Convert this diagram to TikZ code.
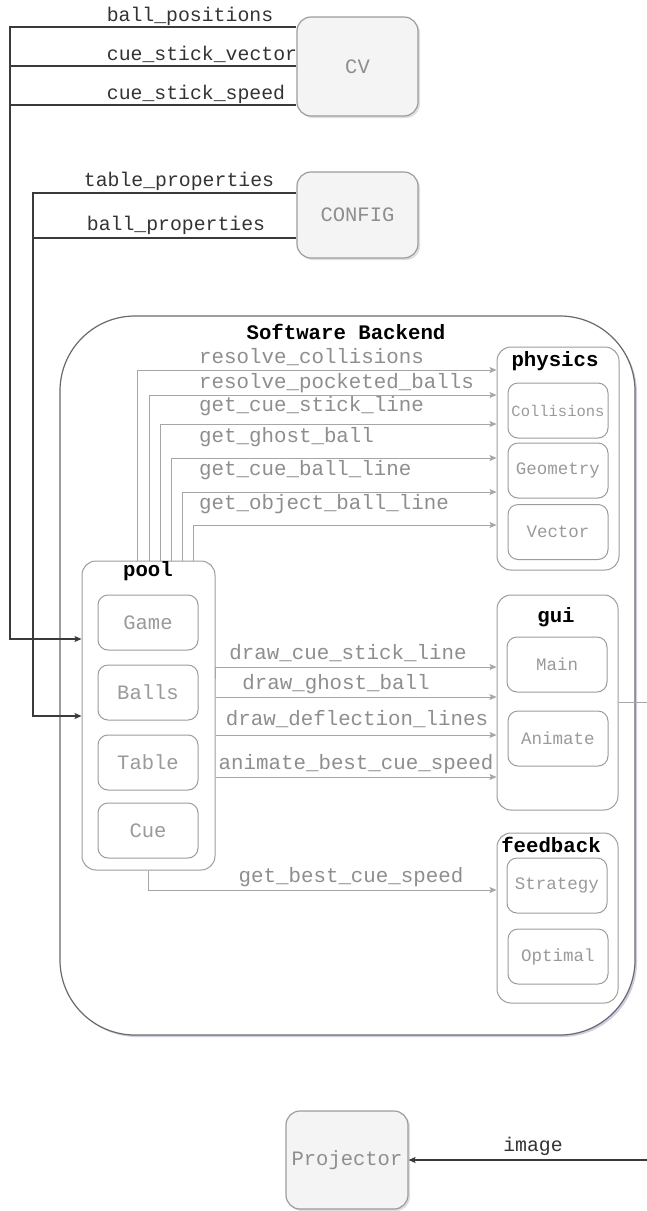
\documentclass[tikz,border=0pt]{standalone}
\usepackage{fontspec}
\setmainfont{Liberation Mono}
\usetikzlibrary{arrows.meta,shadows}

\definecolor{boxfill}{HTML}{F4F4F4}
\definecolor{boxline}{HTML}{9C9C9C}
\definecolor{wirecol}{HTML}{A6A6A6}
\definecolor{darkwire}{HTML}{3A3A3A}
\definecolor{dimtext}{HTML}{8E8E8E}
\definecolor{softtext}{HTML}{9A9A9A}
\definecolor{labeltext}{HTML}{333333}
\definecolor{frameline}{HTML}{6A6A6A}

\tikzset{
  fs/.style={font=\fontsize{#1}{#1}\selectfont},
  extbox/.style={draw=boxline, fill=boxfill, line width=1.2pt, rounded corners=14pt,
    drop shadow={opacity=0.25, shadow xshift=2pt, shadow yshift=-2pt},
    inner sep=0pt, text=dimtext, fs=20.5},
  backendbox/.style={draw=frameline, fill=white, line width=1.2pt, rounded corners=75pt,
    drop shadow={opacity=0.3, fill=blue!30!gray, shadow xshift=2pt, shadow yshift=-2pt},
    inner sep=0pt},
  modbox/.style={draw=boxline, fill=white, line width=1pt, rounded corners=14pt, inner sep=0pt},
  partbox/.style={draw=boxline, fill=white, line width=1pt, rounded corners=10pt, inner sep=0pt,
    text=softtext, minimum width=100pt, minimum height=55pt},
  title/.style={font=\fontsize{20.7}{20.7}\selectfont\bfseries, text=black, inner sep=0pt},
  toplabel/.style={fs=19.8, text=labeltext, inner sep=0pt, text height=14pt, text depth=4pt},
  calllabel/.style={fs=20.8, text=dimtext, inner sep=0pt, text height=14pt, text depth=4pt},
  dwire/.style={draw=darkwire, line width=1.2pt},
  wire/.style={draw=wirecol, line width=1pt},
  tip/.style={-{Stealth[length=7pt,width=6pt,inset=1.5pt]}}
}

\begin{document}
\begin{tikzpicture}[x=1pt,y=-1pt]
\useasboundingbox (0,0) rectangle (647,1211);

% external sources
\node[extbox, minimum width=121pt, minimum height=99pt] (cv) at (357.5,66.5) {CV};
\node[extbox, minimum width=121pt, minimum height=86pt] (config) at (357.5,215) {CONFIG};
\node[extbox, minimum width=122pt, minimum height=98pt] (proj) at (347,1160) {Projector};

% backend frame
\node[backendbox, minimum width=575pt, minimum height=719pt] (backend) at (347.5,675.5) {};
\node[title] (backendtitle) at (346,332) {Software Backend};

% modules
\node[modbox, minimum width=122pt, minimum height=223pt] (physics) at (558,458.5) {};
\node[title] (physicstitle) at (555,361) {physics};
\node[partbox, fs=15.5] (collisions) at (558,410.5) {Collisions};
\node[partbox, fs=17.5] (geometry) at (558,470.5) {Geometry};
\node[partbox, fs=17.5] (vector) at (558,532) {Vector};

\node[modbox, minimum width=121pt, minimum height=215pt] (gui) at (557.5,702.5) {};
\node[title] (guititle) at (556,617) {gui};
\node[partbox, fs=17.5] (main) at (557,664.5) {Main};
\node[partbox, fs=17.5] (animate) at (558,738.5) {Animate};

\node[modbox, minimum width=121pt, minimum height=170pt] (feedback) at (557.5,918) {};
\node[title] (feedbacktitle) at (551,845) {feedback};
\node[partbox, fs=17.5] (strategy) at (557,885.5) {Strategy};
\node[partbox, fs=17.5] (optimal) at (558,956.5) {Optimal};

\node[modbox, minimum width=133pt, minimum height=309pt] (pool) at (148.5,715.5) {};
\node[title] (pooltitle) at (148,571) {pool};
\node[partbox, fs=20.5] (game) at (148,622.5) {Game};
\node[partbox, fs=20.5] (balls) at (148,692.5) {Balls};
\node[partbox, fs=20.5] (table) at (148,762.5) {Table};
\node[partbox, fs=20.5] (cue) at (148,830.5) {Cue};

% inputs from CV and CONFIG
\draw[dwire, tip] (cv.west |- 0,27) -| (10,639) -- (pool.west |- 0,639);
\draw[dwire] (cv.west |- 0,66) -- (10,66);
\draw[dwire] (cv.west |- 0,105) -- (10,105);
\draw[dwire, tip] (config.west |- 0,193) -| (33,716) -- (pool.west |- 0,716);
\draw[dwire] (config.west |- 0,238) -- (33,238);

\node[toplabel] (l1) at (190,16) {ball\_positions};
\node[toplabel] (l2) at (202,55) {cue\_stick\_vector};
\node[toplabel] (l3) at (196,94) {cue\_stick\_speed};
\node[toplabel] (l4) at (179,181) {table\_properties};
\node[toplabel] (l5) at (176,225) {ball\_properties};

% pool -> physics
\draw[wire, tip] (pool.north -| 137,0) |- (physics.west |- 0,370);
\draw[wire, tip] (pool.north -| 149,0) |- (physics.west |- 0,395);
\draw[wire, tip] (pool.north -| 160,0) |- (physics.west |- 0,424);
\draw[wire, tip] (pool.north -| 171,0) |- (physics.west |- 0,458);
\draw[wire, tip] (pool.north -| 182,0) |- (physics.west |- 0,492);
\draw[wire, tip] (pool.north -| 193,0) |- (physics.west |- 0,525);

\node[calllabel, anchor=west] (c1) at (199,358) {resolve\_collisions};
\node[calllabel, anchor=west] (c2) at (199,383) {resolve\_pocketed\_balls};
\node[calllabel, anchor=west] (c3) at (199,406) {get\_cue\_stick\_line};
\node[calllabel, anchor=west] (c4) at (199,437) {get\_ghost\_ball};
\node[calllabel, anchor=west] (c5) at (199,470) {get\_cue\_ball\_line};
\node[calllabel, anchor=west] (c6) at (199,504) {get\_object\_ball\_line};

% pool -> gui
\draw[wire, tip] (pool.east |- 0,679) |- (gui.west |- 0,667);
\draw[wire, tip] (pool.east |- 0,697) -- (gui.west |- 0,697);
\draw[wire, tip] (pool.east |- 0,735) -- (gui.west |- 0,735);
\draw[wire, tip] (pool.east |- 0,777) -- (gui.west |- 0,777);

\node[calllabel] (g1) at (348,654) {draw\_cue\_stick\_line};
\node[calllabel] (g2) at (336,684) {draw\_ghost\_ball};
\node[calllabel] (g3) at (357,720) {draw\_deflection\_lines};
\node[calllabel] (g4) at (356,764) {animate\_best\_cue\_speed};

% pool -> feedback
\draw[wire, tip] (pool.south) |- (feedback.west |- 0,890);
\node[calllabel] (f1) at (351,877) {get\_best\_cue\_speed};

% gui output and projector feed
\coordinate (guiout) at (647,702.5);
\draw[wire] (gui.east) -- (guiout);
\coordinate (imgin) at (647,1160);
\draw[dwire, tip] (imgin) -- (proj.east);
\node[toplabel] (imglabel) at (533,1146) {image};
\end{tikzpicture}
\end{document}
